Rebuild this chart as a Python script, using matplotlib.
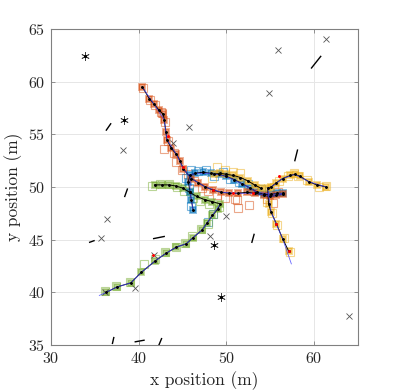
import matplotlib
matplotlib.use("Agg")
import matplotlib.pyplot as plt
from matplotlib.colors import to_rgba

plt.rcParams['font.family'] = 'cmr10'
plt.rcParams['axes.formatter.use_mathtext'] = True
plt.rcParams['mathtext.fontset'] = 'cm'

# ---------------- data ----------------
# orange track estimates
orange_x = [40.4, 41.2, 41.7, 42.3, 42.8, 42.9, 43.1, 43.2, 43.7, 44.3, 44.7, 45.1, 46.0, 46.8, 47.6, 48.5, 49.4, 50.3, 51.3, 52.3, 53.3, 54.3, 55.0, 55.7, 56.4]
orange_y = [59.5, 58.4, 57.9, 57.3, 56.9, 56.4, 55.2, 54.5, 53.7, 53.1, 52.5, 51.7, 50.8, 50.4, 50.0, 49.7, 49.5, 49.4, 49.4, 49.5, 49.4, 49.2, 49.1, 49.2, 49.3]
orange_meas_x = [40.5, 41.3, 41.9, 42.5, 42.6, 43.0, 43.3, 42.9, 44.0, 44.2, 44.9, 45.6, 46.3, 47.2, 47.9, 48.9, 49.8, 51.0, 51.2, 51.3, 52.6, 53.1, 54.6, 55.3, 55.9]
orange_meas_y = [59.4, 58.3, 57.8, 57.1, 57.0, 56.2, 54.4, 53.6, 53.2, 52.4, 51.6, 51.2, 50.6, 49.9, 49.6, 49.2, 49.0, 48.9, 48.8, 48.0, 48.3, 49.6, 48.9, 48.5, 49.5]

# blue track estimates
blue_x = [46.2, 46.0, 45.85, 45.65, 45.85, 46.4, 47.3, 48.2, 49.1, 50.0, 50.9, 51.8, 52.7, 53.5, 54.3, 55.1, 55.8, 56.4]
blue_y = [47.8, 48.75, 49.55, 50.5, 51.1, 51.3, 51.4, 51.3, 51.2, 51.0, 50.7, 50.3, 49.9, 49.5, 49.3, 49.3, 49.4, 49.4]
blue_meas_x = [46.0, 45.7, 45.4, 46.0, 46.8, 47.7, 48.6, 49.6, 50.4, 51.4, 52.4, 53.9, 54.8, 48.5, 47.9]
blue_meas_y = [48.2, 49.9, 50.9, 51.6, 51.5, 51.6, 51.0, 51.4, 50.8, 50.5, 50.3, 49.8, 49.6, 47.4, 46.7]

# yellow track estimates
yellow_x = [61.4, 60.3, 59.4, 58.4, 57.8, 57.3, 56.4, 55.7, 55.1, 54.7, 54.8, 55.1, 55.7, 56.4, 57.1]
yellow_y = [50.0, 50.2, 50.5, 51.0, 51.2, 51.1, 50.8, 50.4, 50.0, 49.9, 48.4, 47.6, 46.5, 45.1, 43.9]
yellow2_x = [48.6, 49.3, 50.0, 50.8, 51.6, 52.4, 53.2, 53.9]
yellow2_y = [51.2, 51.3, 51.2, 51.1, 50.9, 50.6, 50.2, 49.9]
yellow_meas_x = [61.3, 60.5, 59.2, 58.2, 57.7, 57.0, 56.0, 55.4, 54.4, 54.6, 55.2, 55.8, 56.6, 57.2, 53.3, 52.6, 51.55, 50.8, 48.9, 49.8, 48.3]
yellow_meas_y = [50.1, 50.0, 50.7, 51.0, 51.3, 51.0, 50.6, 50.0, 49.7, 48.6, 47.5, 46.4, 45.2, 43.8, 49.9, 50.1, 51.3, 51.4, 51.9, 51.6, 50.9]

# green track estimates
green_x = [36.3, 37.5, 39.1, 40.3, 41.9, 43.1, 44.3, 45.4, 46.2, 47.2, 47.8, 48.4, 49.0, 49.3, 48.4, 47.5, 46.6, 45.8, 45.0, 44.2, 43.4, 42.6, 41.8]
green_y = [40.0, 40.5, 40.9, 41.9, 43.0, 43.7, 44.3, 44.6, 45.2, 45.9, 46.6, 47.3, 47.9, 48.4, 48.6, 48.8, 49.1, 49.5, 49.9, 50.1, 50.2, 50.2, 50.2]
green_meas_x = [36.2, 37.4, 39.0, 40.6, 41.85, 43.0, 44.2, 45.3, 46.1, 47.1, 47.9, 48.5, 49.1, 48.0, 47.0, 46.2, 45.2, 44.4, 43.5, 42.4, 41.5]
green_meas_y = [40.1, 40.6, 41.0, 42.65, 43.15, 43.8, 44.3, 44.7, 45.3, 46.0, 46.5, 47.4, 48.1, 48.4, 48.7, 49.0, 49.6, 50.0, 50.3, 50.3, 50.1]

# thin blue (smoothed) paths
smooth_a_x = [40.4, 41.7, 42.9, 43.2, 44.3, 45.1, 46.0, 47.6, 49.4, 51.3, 53.3, 55.0, 56.4]
smooth_a_y = [59.5, 57.9, 56.4, 54.5, 53.1, 51.7, 50.8, 50.0, 49.5, 49.4, 49.4, 49.1, 49.3]
smooth_b_x = [35.5, 36.3, 37.5, 39.1, 40.3, 41.9, 43.1, 44.3, 45.4, 46.2, 47.2, 48.4, 49.3]
smooth_b_y = [39.7, 40.0, 40.5, 40.9, 41.9, 43.0, 43.7, 44.3, 44.6, 45.2, 45.9, 47.3, 48.4]
smooth_c_x = [61.4, 59.4, 57.8, 56.4, 55.1, 54.7, 55.1, 56.4, 57.4]
smooth_c_y = [50.0, 50.5, 51.2, 50.8, 50.0, 49.9, 47.6, 45.1, 42.7]
smooth_d_x = [46.2, 45.85, 45.85, 46.4, 48.2, 50.0, 51.8, 53.5, 55.1, 56.4]
smooth_d_y = [47.8, 49.55, 51.1, 51.3, 51.3, 51.0, 50.3, 49.5, 49.3, 49.4]

# red points
red_x = [41.6, 43.3, 45.0, 48.5, 50.8, 53.0, 55.7, 57.1, 56.0]
red_y = [43.5, 54.8, 51.9, 49.7, 49.4, 49.4, 46.5, 43.9, 51.0]

# clutter (x markers)
clutter_x = [38.2, 45.7, 55.9, 61.4, 54.9, 36.35, 35.7, 39.6, 50.0, 48.1, 64.0, 43.9, 36.2, 41.7]
clutter_y = [53.5, 55.7, 63.0, 64.05, 58.95, 47.0, 45.2, 40.4, 47.2, 45.3, 37.75, 54.2, 40.0, 43.5]

# asterisks
star_x = [33.9, 38.36, 48.6, 49.4]
star_y = [62.4, 56.4, 44.5, 39.6]

# short segments
seg_x0 = [36.3, 38.4, 59.7, 57.8, 34.4, 41.7, 37.0, 39.6, 42.3, 52.9]
seg_x1 = [36.8, 38.7, 60.75, 58.1, 34.9, 42.9, 37.15, 40.6, 42.6, 53.15]
seg_y0 = [55.4, 49.1, 61.3, 52.5, 44.75, 45.1, 35.15, 35.3, 35.0, 44.75]
seg_y1 = [56.0, 49.8, 62.4, 53.5, 44.9, 45.3, 35.7, 35.45, 35.6, 45.5]

x_ticks = [30, 40, 50, 60]
y_ticks = [35, 40, 45, 50, 55, 60, 65]

C_BLUE = '#0072BD'
C_ORANGE = '#D95319'
C_YELLOW = '#EDB120'
C_GREEN = '#77AC30'

fig = plt.figure(figsize=(3.96, 3.92), dpi=100)
ax = fig.add_axes([0.129, 0.120, 0.775, 0.806])

# measurements (open squares)
for mx, my, c in [(orange_meas_x, orange_meas_y, C_ORANGE), (blue_meas_x, blue_meas_y, C_BLUE),
                  (yellow_meas_x, yellow_meas_y, C_YELLOW), (green_meas_x, green_meas_y, C_GREEN)]:
    ax.plot(mx, my, 's', mfc='none', mec=to_rgba(c, 0.5), ms=5.5, mew=0.8, zorder=2)

# estimates (filled squares)
for ex, ey, c in [(green_x, green_y, C_GREEN), (blue_x, blue_y, C_BLUE), (orange_x, orange_y, C_ORANGE),
                  (yellow_x, yellow_y, C_YELLOW), (yellow2_x, yellow2_y, C_YELLOW)]:
    ax.plot(ex, ey, 's', mfc=to_rgba(c, 0.55), mec=to_rgba(c, 0.45), ms=4.5, mew=1.4, zorder=3)

# ground truth black lines with dots
for ex, ey in [(orange_x, orange_y), (blue_x, blue_y), (yellow_x, yellow_y), (yellow2_x, yellow2_y), (green_x, green_y)]:
    ax.plot(ex, ey, '-', color='black', lw=0.7, zorder=4)
    ax.plot(ex, ey, '.', color='black', ms=2.2, zorder=5)

# thin blue smoothed lines
for sx, sy in [(smooth_a_x, smooth_a_y), (smooth_b_x, smooth_b_y), (smooth_c_x, smooth_c_y), (smooth_d_x, smooth_d_y)]:
    ax.plot(sx, sy, '-', color='#4040ff', lw=0.6, alpha=0.8, zorder=4)

ax.plot(red_x, red_y, '.', color='red', ms=2.2, zorder=6)

ax.plot(clutter_x, clutter_y, 'x', color='#555555', ms=4, mew=0.6, zorder=3)
ax.plot(star_x, star_y, marker=(6, 2, 0), ls='none', color='#404040', ms=6, mew=0.6, zorder=3)
ax.plot(star_x, star_y, '.', color='black', ms=2.5, zorder=3)
for x0, x1, y0, y1 in zip(seg_x0, seg_x1, seg_y0, seg_y1):
    ax.plot([x0, x1], [y0, y1], '-', color='black', lw=1.0, zorder=3)

ax.set_xlim(30, 65)
ax.set_ylim(35, 65)
ax.set_xticks(x_ticks)
ax.set_yticks(y_ticks)
ax.grid(True, color='#e6e6e6', lw=0.7)
ax.set_axisbelow(True)
for s in ax.spines.values():
    s.set_color('#808080')
    s.set_linewidth(0.8)
ax.tick_params(direction='in', length=3, width=0.6, color='#808080', top=True, right=True,
               labelsize=11.5, labelcolor='#262626', pad=4)
ax.set_xlabel('x position (m)', fontsize=12.5, color='#262626')
ax.set_ylabel('y position (m)', fontsize=12.5, color='#262626')

fig.savefig('out.png', dpi=100)
